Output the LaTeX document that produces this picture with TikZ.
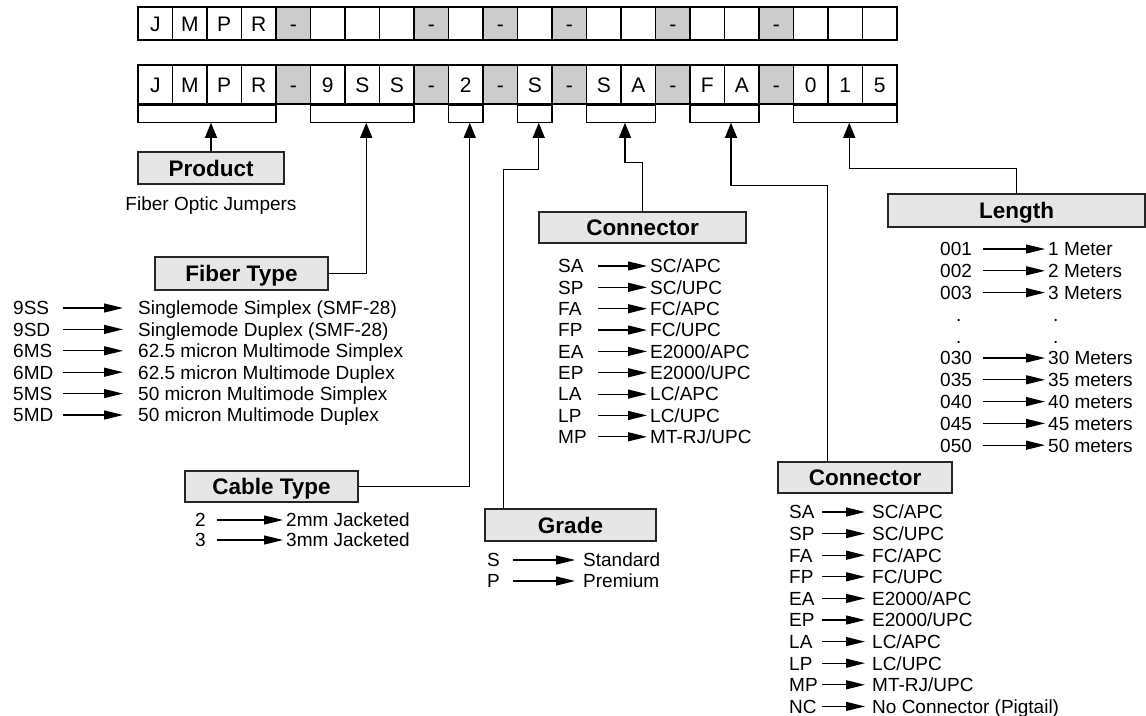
\documentclass[tikz,border=0pt]{standalone}
\usepackage{fontspec}
\setmainfont{Liberation Sans}
\usetikzlibrary{arrows.meta}
\definecolor{dashgrey}{HTML}{CCCCCC}
\definecolor{labelgrey}{HTML}{E6E6E6}
\def\B{}
\begin{document}
\begin{tikzpicture}[x=1pt,y=-1pt,
  cell/.style={draw=black,line width=1.2pt,minimum width=34.5pt,inner sep=0pt,
    text height=15pt,text depth=0pt,font=\fontsize{21}{21}\selectfont},
  topcell/.style={cell,minimum height=33pt},
  botcell/.style={cell,minimum height=39pt},
  bracket/.style={draw=black,line width=1.2pt,minimum height=17pt,inner sep=0pt,anchor=north west},
  labelbox/.style={draw=black!85,fill=labelgrey,line width=1.5pt,inner sep=0pt,
    text height=16.1pt,text depth=0pt,font=\fontsize{22.5}{23}\selectfont\bfseries},
  conn/.style={line width=1.3pt,-{Triangle[length=15pt,width=12pt]}},
  item/.style={font=\fontsize{19}{19}\selectfont,inner sep=0pt,text height=13.6pt,text depth=0pt,anchor=west},
  itemarrow/.style={line width=1.2pt,-{Triangle[length=19pt,width=9pt]}},
]
\useasboundingbox[fill=white] (0,0) rectangle (1146,715);

% code rows
\foreach \t/\f [count=\i from 0] in {J/white,M/white,P/white,R/white,-/dashgrey,\B/white,\B/white,\B/white,-/dashgrey,\B/white,-/dashgrey,\B/white,-/dashgrey,\B/white,\B/white,-/dashgrey,\B/white,\B/white,-/dashgrey,\B/white,\B/white,\B/white}
  \node[topcell,fill=\f] (t\i) at ({138+34.5*(\i+0.5)},23.5) {\t};
\foreach \t/\f [count=\i from 0] in {J/white,M/white,P/white,R/white,-/dashgrey,9/white,S/white,S/white,-/dashgrey,2/white,-/dashgrey,S/white,-/dashgrey,S/white,A/white,-/dashgrey,F/white,A/white,-/dashgrey,0/white,1/white,5/white}
  \node[botcell,fill=\f] (b\i) at ({138+34.5*(\i+0.5)},84.5) {\t};

% brackets
\node[bracket,minimum width=138pt] (gprod) at (b0.south west) {};
\node[bracket,minimum width=103.5pt] (gfib) at (b5.south west) {};
\node[bracket,minimum width=34.5pt] (gcab) at (b9.south west) {};
\node[bracket,minimum width=34.5pt] (ggrd) at (b11.south west) {};
\node[bracket,minimum width=69pt] (gcon1) at (b13.south west) {};
\node[bracket,minimum width=69pt] (gcon2) at (b16.south west) {};
\node[bracket,minimum width=103.5pt] (glen) at (b19.south west) {};

% label boxes
\node[labelbox,minimum width=146pt,minimum height=32pt] (product) at (211,168) {Product};
\node[labelbox,minimum width=173pt,minimum height=33pt] (fiber) at (241.5,273.5) {Fiber Type};
\node[labelbox,minimum width=173pt,minimum height=31pt] (cable) at (271.5,486.5) {Cable Type};
\node[labelbox,minimum width=171pt,minimum height=32pt] (grade) at (570.5,525) {Grade};
\node[labelbox,minimum width=207pt,minimum height=31pt] (conn1) at (642.5,227.5) {Connector};
\node[labelbox,minimum width=174pt,minimum height=31pt] (conn2) at (865,477.5) {Connector};
\node[labelbox,minimum width=257pt,minimum height=33pt] (length) at (1016.5,210.5) {Length};

\node[item,anchor=center] (foj) at (211,204) {Fiber Optic Jumpers};

% connectors
\draw[conn] (product.north) -- (product.north |- gprod.south);
\draw[conn] (fiber.east) -| ([xshift=4pt]gfib.south);
\draw[conn] (cable.east) -| ([xshift=4pt]gcab.south);
\draw[conn] ([xshift=19pt]grade.north west) |- ([xshift=4pt,yshift=-47pt]ggrd.south) -- ([xshift=4pt]ggrd.south);
\draw[conn] (conn1.north) |- ([xshift=4pt,yshift=-40pt]gcon1.south) -- ([xshift=4pt]gcon1.south);
\draw[conn] ([xshift=50pt]conn2.north west) |- ([xshift=6.5pt,yshift=-63pt]gcon2.south) -- ([xshift=6.5pt]gcon2.south);
\draw[conn] (length.north) |- ([xshift=4pt,yshift=-46pt]glen.south) -- ([xshift=4pt]glen.south);

% fiber list
\foreach \c/\d [count=\k from 0] in {9SS/Singlemode Simplex (SMF-28),9SD/Singlemode Duplex (SMF-28),6MS/62.5 micron Multimode Simplex,6MD/62.5 micron Multimode Duplex,5MS/50 micron Multimode Simplex,5MD/50 micron Multimode Duplex}{
  \pgfmathsetmacro\yy{308+21.4*\k}
  \node[item] (fc\k) at (13,\yy) {\c};
  \node[item] (fd\k) at (138,\yy) {\d};
  \draw[itemarrow] ([xshift=50pt]fc\k.west) -- ([xshift=-15pt]fd\k.west);
}

% cable list
\foreach \c/\d [count=\k from 0] in {2/2mm Jacketed,3/3mm Jacketed}{
  \pgfmathsetmacro\yy{520+20*\k}
  \node[item] (cc\k) at (195,\yy) {\c};
  \node[item] (cd\k) at (286,\yy) {\d};
  \draw[itemarrow] ([xshift=22pt]cc\k.west) -- ([xshift=-3pt]cd\k.west);
}

% grade list
\foreach \c/\d [count=\k from 0] in {S/Standard,P/Premium}{
  \pgfmathsetmacro\yy{560+21*\k}
  \node[item] (gc\k) at (487,\yy) {\c};
  \node[item] (gd\k) at (583,\yy) {\d};
  \draw[itemarrow] ([xshift=26pt]gc\k.west) -- ([xshift=-8pt]gd\k.west);
}

% connector 1 list
\foreach \c/\d [count=\k from 0] in {SA/{SC/APC},SP/{SC/UPC},FA/{FC/APC},FP/{FC/UPC},EA/{E2000/APC},EP/{E2000/UPC},LA/{LC/APC},LP/{LC/UPC},MP/{MT-RJ/UPC}}{
  \pgfmathsetmacro\yy{266+21.35*\k}
  \node[item] (ac\k) at (558,\yy) {\c};
  \node[item] (ad\k) at (650,\yy) {\d};
  \draw[itemarrow] ([xshift=40pt]ac\k.west) -- ([xshift=-3pt]ad\k.west);
}

% connector 2 list
\foreach \c/\d [count=\k from 0] in {SA/{SC/APC},SP/{SC/UPC},FA/{FC/APC},FP/{FC/UPC},EA/{E2000/APC},EP/{E2000/UPC},LA/{LC/APC},LP/{LC/UPC},MP/{MT-RJ/UPC},NC/{No Connector (Pigtail)}}{
  \pgfmathsetmacro\yy{512+21.6*\k}
  \node[item] (bc\k) at (789,\yy) {\c};
  \node[item] (bd\k) at (872,\yy) {\d};
  \draw[itemarrow] ([xshift=33pt]bc\k.west) -- ([xshift=-7pt]bd\k.west);
}

% length list
\foreach \c/\d/\r in {001/1 Meter/0,002/2 Meters/1,003/3 Meters/2,030/30 Meters/5,035/35 meters/6,040/40 meters/7,045/45 meters/8,050/50 meters/9}{
  \pgfmathsetmacro\yy{249+21.8*\r}
  \node[item] (lc\r) at (940,\yy) {\c};
  \node[item] (ld\r) at (1048,\yy) {\d};
  \draw[itemarrow] ([xshift=43pt]lc\r.west) -- ([xshift=-3pt]ld\r.west);
}
\foreach \r in {3,4}{
  \pgfmathsetmacro\yy{249+21.8*\r}
  \node[item] (lc\r) at (956,\yy) {.};
  \node[item] (ld\r) at (1053,\yy) {.};
}
\end{tikzpicture}
\end{document}
